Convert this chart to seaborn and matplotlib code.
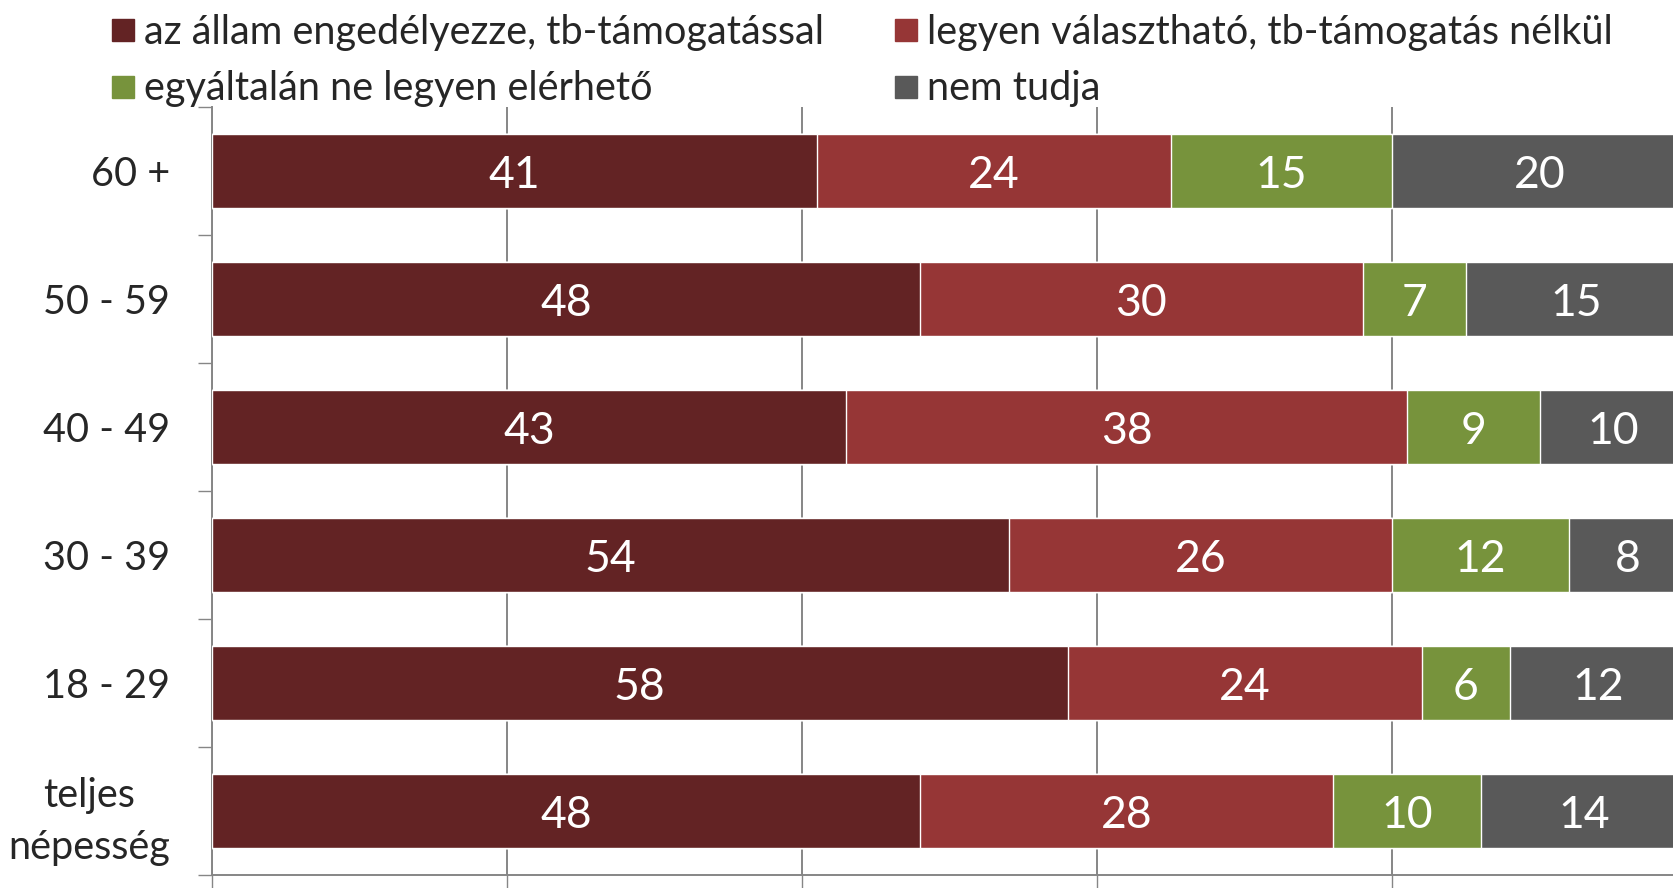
import numpy as np
import pandas as pd
import matplotlib
matplotlib.use('Agg')
import matplotlib.pyplot as plt
from matplotlib.lines import Line2D
import seaborn as sns

# data (percent, each row sums to 100)
groups = ['60 +', '50 - 59', '40 - 49', '30 - 39', '18 - 29', 'teljes\nnépesség']
series = ['az állam engedélyezze, tb-támogatással',
          'legyen választható, tb-támogatás nélkül',
          'egyáltalán ne legyen elérhető',
          'nem tudja']
allam = [41, 48, 43, 54, 58, 48]
valaszthato = [24, 30, 38, 26, 24, 28]
ne_legyen = [15, 7, 9, 12, 6, 10]
nem_tudja = [20, 15, 10, 8, 12, 14]
colors = ['#632324', '#963636', '#77933C', '#595959']

sns.set_style('white')
plt.rcParams['font.family'] = ['Lato', 'DejaVu Sans']
fs = 28.5

df = pd.DataFrame({'group': groups, series[0]: allam, series[1]: valaszthato,
                   series[2]: ne_legyen, series[3]: nem_tudja})
cum = df[series].cumsum(axis=1)

fig = plt.figure(figsize=(16.74, 8.88), dpi=100)
ax = fig.add_axes([212 / 1674, 13 / 888, 1475 / 1674, 768 / 888])

# stacked bars: draw cumulative totals from the widest down
for s, c in reversed(list(zip(series, colors))):
    sns.barplot(x=cum[s], y=df['group'], color=c, width=0.58, orient='h',
                saturation=1, ax=ax, zorder=3)

for i in range(len(groups)):
    for s in series:
        v = df.loc[i, s]
        ax.text(cum.loc[i, s] - v / 2, i, str(v), ha='center', va='center_baseline',
                color='white', fontsize=32, zorder=4)

ax.set_xlim(0, 100)
ax.set_ylim(len(groups) - 0.5, -0.5)
ax.set_xticks([0, 20, 40, 60, 80, 100])
ax.set_xticklabels([])
ax.xaxis.grid(True, color='#868686', lw=1.4, zorder=0)
ax.set_xlabel('')
ax.set_ylabel('')
for side in ['top', 'right']:
    ax.spines[side].set_visible(False)
for side in ['left', 'bottom']:
    ax.spines[side].set_color('#868686')
    ax.spines[side].set_linewidth(1.4)

ax.tick_params(axis='x', which='major', bottom=True, length=10, width=1, color='#868686')
ax.tick_params(axis='y', which='major', length=0, pad=30, labelsize=fs)
ax.set_yticks(np.arange(len(groups) + 1) - 0.5, minor=True)
ax.tick_params(axis='y', which='minor', left=True, length=10, width=1, color='#868686')
for lab in ax.get_yticklabels():
    lab.set_multialignment('center')
    lab.set_linespacing(1.5)

# legend filled row by row like the original
order = [0, 2, 1, 3]
handles = [Line2D([], [], marker='s', ls='', color=colors[k], markersize=16.5) for k in order]
fig.legend(handles, [series[k] for k in order], ncol=2, loc='upper left',
           bbox_to_anchor=(95 / 1674, 1.002), frameon=False, fontsize=fs,
           handlelength=0.6, handletextpad=0.25, columnspacing=1.75,
           labelspacing=0.49, borderaxespad=0)

fig.savefig('out.png', dpi=100)
